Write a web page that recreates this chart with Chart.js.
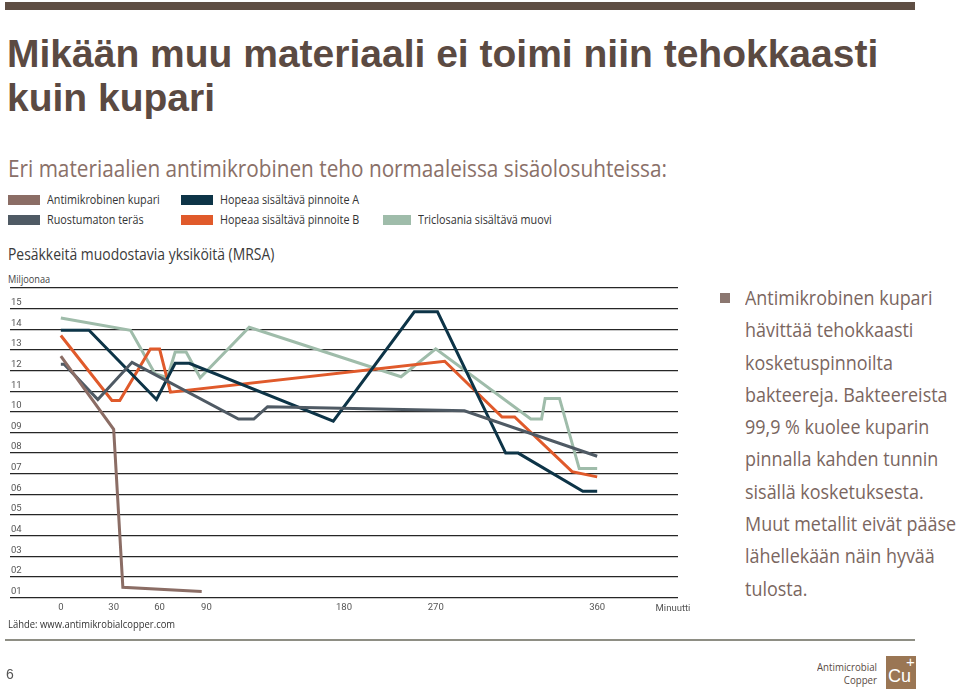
<!DOCTYPE html>
<html>
<head>
<meta charset="utf-8">
<script src="https://cdn.jsdelivr.net/npm/chart.js@4/dist/chart.umd.min.js"></script>
<style>
  body { margin: 0; background: #fff; }
  #page { position: relative; width: 960px; height: 692px; overflow: hidden; font-family: 'Open Sans', sans-serif; }
  .abs { position: absolute; white-space: nowrap; transform-origin: 0 0; }
  #topbar { left: 5px; top: 2px; width: 910px; height: 8px; background: #5f4e44; }
  #title { left: 7px; top: 32px; font-family: 'Liberation Sans', Arial, sans-serif; font-weight: bold; font-size: 39px; line-height: 44px; color: #5b4a42; }
  #sub { left: 8px; top: 151px; font-size: 24px; color: #8a7068; transform: scaleX(0.865); }
  #legend { left: 8px; top: 194px; width: 600px; height: 34px; }
  .li { position: absolute; height: 12px; font-size: 12px; line-height: 12px; color: #333; }
  .li span.sw { display: inline-block; width: 32px; height: 10px; vertical-align: top; margin: 1px 7px 0 0; }
  .li span.tx { display: inline-block; transform: scaleX(0.9); transform-origin: 0 0; }
  #unit { left: 8px; top: 243px; font-size: 16px; color: #3a3a3a; transform: scaleX(0.87); }
  #mil { left: 8px; top: 272px; font-size: 10px; color: #444; transform: scaleX(0.92); }
  #src { left: 8px; top: 617px; font-size: 10.5px; color: #333; transform: scaleX(0.9); }
  #chart { position: absolute; left: 0; top: 280px; }
  #txt { left: 745px; top: 282px; font-size: 19.5px; line-height: 32.3px; color: #7a6660; transform: scaleX(0.92); }
  #bullet { left: 720px; top: 293px; width: 10px; height: 10px; background: #8b7770; }
  #rule { left: 5px; top: 639px; width: 910px; height: 2px; background: #8e8e84; }
  #pg { left: 6px; top: 666px; font-family: 'Liberation Sans', sans-serif; font-size: 14px; color: #555; }
  #logo1 { left: 817px; top: 660px; font-size: 11px; line-height: 13px; color: #5a4a44; text-align: right; transform: scaleX(0.88); }
  #logobox { left: 886px; top: 656px; width: 30px; height: 33px; background: #9a7654; color: #fff; font-family: 'Liberation Sans', sans-serif; font-size: 18px; }
</style>
</head>
<body>
<div id="page">
  <div id="topbar" class="abs"></div>
  <div id="title" class="abs">Mikään muu materiaali ei toimi niin tehokkaasti<br>kuin kupari</div>
  <div id="sub" class="abs">Eri materiaalien antimikrobinen teho normaaleissa sisäolosuhteissa:</div>
  <div id="legend" class="abs"></div>
  <div id="unit" class="abs">Pesäkkeitä muodostavia yksiköitä (MRSA)</div>
  <div id="mil" class="abs">Miljoonaa</div>
  <canvas id="chart" width="700" height="340"></canvas>
  <div id="src" class="abs">Lähde: www.antimikrobialcopper.com</div>
  <div id="bullet" class="abs"></div>
  <div id="txt" class="abs">Antimikrobinen kupari<br>hävittää tehokkaasti<br>kosketuspinnoilta<br>bakteereja. Bakteereista<br>99,9 % kuolee kuparin<br>pinnalla kahden tunnin<br>sisällä kosketuksesta.<br>Muut metallit eivät pääse<br>lähellekään näin hyvää<br>tulosta.</div>
  <div id="rule" class="abs"></div>
  <div id="pg" class="abs">6</div>
  <div id="logo1" class="abs">Antimicrobial<br>Copper</div>
  <div id="logobox" class="abs"><span style="position:absolute;left:2px;top:10px;">Cu</span><span style="position:absolute;left:20px;top:-3px;font-size:15px;">+</span></div>
</div>
<script>
const seriesNames = ['Antimikrobinen kupari', 'Ruostumaton teräs', 'Hopeaa sisältävä pinnoite A', 'Hopeaa sisältävä pinnoite B', 'Triclosania sisältävä muovi'];
const seriesColors = ['#8b6d65', '#4f5a64', '#0d3447', '#e05a2b', '#9fbcaa'];

// minutes / millions
const copperMin = [0, 30, 36, 87];
const copperVal = [12.7, 9.15, 1.5, 1.3];
const steelMin = [0, 2, 21, 42, 111, 121, 130, 286, 360];
const steelVal = [12.3, 12.3, 10.6, 12.4, 9.65, 9.65, 10.25, 10.05, 7.85];
const silverAMin = [0, 16, 58, 70, 79, 173, 249, 271, 309, 316, 352, 360];
const silverAVal = [13.95, 13.95, 10.6, 12.35, 12.35, 9.55, 14.85, 14.85, 8.0, 8.0, 6.15, 6.15];
const silverBMin = [0, 29, 34, 54, 60, 67, 275, 307, 314, 346, 360];
const silverBVal = [13.7, 10.55, 10.55, 13.05, 13.05, 10.95, 12.45, 9.75, 9.75, 7.1, 6.85];
const triclosanMin = [0, 41, 57, 65, 70, 77, 86, 118, 236, 270, 323, 329, 331, 339, 350, 360];
const triclosanVal = [14.55, 13.95, 11.85, 11.65, 12.9, 12.9, 11.65, 14.1, 11.7, 13.05, 9.65, 9.65, 10.65, 10.65, 7.25, 7.25];

const xTicks = [0, 30, 60, 90, 180, 270, 360];
const yTicks = [1, 2, 3, 4, 5, 6, 7, 8, 9, 10, 11, 12, 13, 14, 15, 16];

// the printed time axis is not evenly spaced: where each labelled minute sits across the plot (0..1)
const xStops = [[0, 0.0761], [30, 0.1552], [60, 0.2239], [90, 0.294], [180, 0.5], [270, 0.6373], [360, 0.879]];

function stopFrac(v) {
  let i = 0;
  while (i < xStops.length - 2 && v > xStops[i + 1][0]) i++;
  const a = xStops[i], b = xStops[i + 1];
  return a[1] + (v - a[0]) * (b[1] - a[1]) / (b[0] - a[0]);
}
function fracStop(f) {
  let i = 0;
  while (i < xStops.length - 2 && f > xStops[i + 1][1]) i++;
  const a = xStops[i], b = xStops[i + 1];
  return a[0] + (f - a[1]) * (b[0] - a[0]) / (b[1] - a[1]);
}

class StopScale extends Chart.LinearScale {
  getPixelForValue(value) {
    return this.getPixelForDecimal(stopFrac(value));
  }
  getValueForPixel(pixel) {
    return fracStop(this.getDecimalForPixel(pixel));
  }
}
StopScale.id = 'stops';
StopScale.defaults = Chart.LinearScale.defaults;
Chart.register(StopScale);

const mins = [copperMin, steelMin, silverAMin, silverBMin, triclosanMin];
const vals = [copperVal, steelVal, silverAVal, silverBVal, triclosanVal];

const tickFont = { family: 'Roboto', size: 9.5 };
const ctx = document.getElementById('chart').getContext('2d');
const minuteLabel = {
  id: 'minuteLabel',
  afterDraw(chart) {
    const c = chart.ctx;
    c.save();
    c.font = '9.5px Roboto';
    c.fillStyle = '#555';
    c.textAlign = 'center';
    c.textBaseline = 'middle';
    c.fillText('Minuutti', 673, chart.chartArea.bottom + 11);
    c.restore();
  }
};

const chart = new Chart(ctx, {
  type: 'line',
  data: {
    datasets: seriesNames.map((name, i) => ({
      label: name,
      data: mins[i].map((m, j) => ({ x: m, y: vals[i][j] })),
      borderColor: seriesColors[i],
      backgroundColor: seriesColors[i],
      borderWidth: 3,
      pointRadius: 0,
      tension: 0,
      fill: false
    }))
  },
  options: {
    responsive: false,
    animation: false,
    devicePixelRatio: 1,
    layout: { padding: { left: 8, right: 22, top: 8, bottom: 3 } },
    plugins: { legend: { display: false }, tooltip: { enabled: false } },
    scales: {
      x: {
        type: 'stops',
        min: -40, max: 400,
        afterBuildTicks: axis => { axis.ticks = xTicks.map(v => ({ value: v })); },
        grid: { display: false, drawTicks: false },
        border: { display: false },
        ticks: {
          autoSkip: false, maxRotation: 0, padding: 4,
          color: '#555', font: tickFont,
          callback: v => String(v)
        }
      },
      y: {
        min: 1, max: 16,
        afterBuildTicks: axis => { axis.ticks = yTicks.map(v => ({ value: v })); },
        grid: { color: '#262626', lineWidth: 1.3, drawTicks: false },
        border: { display: false },
        ticks: {
          mirror: true, padding: 1, labelOffset: -6,
          color: '#555', font: tickFont,
          callback: v => v === 16 ? '' : String(v).padStart(2, '0')
        }
      }
    }
  },
  plugins: [minuteLabel]
});

// legend laid out like the printed one
const legendCells = [[0, 0], [0, 1], [1, 0], [1, 1], [2, 1]];
const legendCols = [0, 173, 375];
const legendEl = document.getElementById('legend');
chart.data.datasets.forEach((ds, i) => {
  const d = document.createElement('div');
  d.className = 'li';
  d.style.left = legendCols[legendCells[i][0]] + 'px';
  d.style.top = (legendCells[i][1] * 20) + 'px';
  d.innerHTML = '<span class="sw" style="background:' + ds.borderColor + (i === 4 ? ';width:28px' : '') + '"></span><span class="tx">' + ds.label + '</span>';
  legendEl.appendChild(d);
});
</script>
</body>
</html>
